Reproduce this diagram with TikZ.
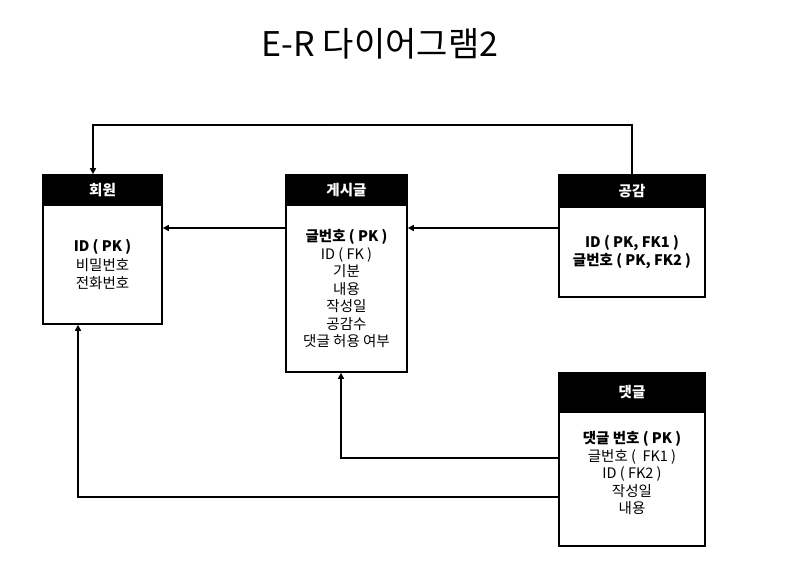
\documentclass[tikz,border=0pt]{standalone}
\usepackage{fontspec}
\setmainfont{Noto Sans CJK KR}
\usetikzlibrary{arrows.meta}

\tikzset{
	entity/.style = {draw = black, line width = 1.6pt, fill = white, align = center, inner sep = 0pt, font = \fontsize{14.5}{17.5}\selectfont},
	fields/.style = {align = center, inner sep = 0pt, font = \fontsize{14.5}{17.5}\selectfont},
	head/.style = {draw = black, line width = 1.6pt, fill = black, text = white, inner sep = 0pt, font = \fontsize{14.5}{16}\selectfont\bfseries},
	link/.style = {draw = black, line width = 1.8pt, -{Triangle[length = 6pt, width = 6pt]}}
}

\begin{document}
\begin{tikzpicture}[x = 1pt, y = -1pt]
	\useasboundingbox (0, 0) rectangle (792, 575);
	\node [font = \fontsize{34}{40}\selectfont] (title) at (380, 44) {E-R 다이어그램2};
	% entities
	\node [head, minimum width = 119pt, minimum height = 30pt] (memberhead) at (102.5, 190) {회원};
	\node [entity, minimum width = 119pt, minimum height = 119pt] (member) at (102.5, 264.5) {\textbf{ID ( PK )}\\[1pt]비밀번호\\[1pt]전화번호};
	\node [head, minimum width = 121pt, minimum height = 30pt] (posthead) at (346.5, 190) {게시글};
	\node [entity, minimum width = 121pt, minimum height = 167pt] (post) at (346.5, 288.5) {\textbf{글번호 ( PK )}\\ID ( FK )\\기분\\내용\\작성일\\공감수\\댓글 허용 여부};
	\node [head, minimum width = 146pt, minimum height = 32pt] (likehead) at (632, 191) {공감};
	\node [entity, minimum width = 146pt, minimum height = 90pt] (like) at (632, 252) {\textbf{ID ( PK, FK1 )}\\\textbf{글번호 ( PK, FK2 )}};
	\node [head, minimum width = 146pt, minimum height = 39pt] (replyhead) at (632, 392.5) {댓글};
	\node [entity, minimum width = 146pt, minimum height = 134pt] (reply) at (632, 479) {};
	\node [fields] (replyfields) at (632, 473) {\textbf{댓글 번호 ( PK )}\\글번호 (\ \ FK1 )\\ID ( FK2 )\\작성일\\내용};
	% relations
	\coordinate (top) at (93, 125);
	\coordinate (row) at (0, 228);
	\coordinate (r1) at (341, 458);
	\coordinate (r2) at (78, 497);
	\draw [link] (likehead.north) |- (top) -- (top |- memberhead.north);
	\draw [link] (like.west |- row) -- (post.east |- row);
	\draw [link] (post.west |- row) -- (member.east |- row);
	\draw [link] (reply.west |- r1) -| (r1 |- post.south);
	\draw [link] (reply.west |- r2) -| (r2 |- member.south);
\end{tikzpicture}
\end{document}
